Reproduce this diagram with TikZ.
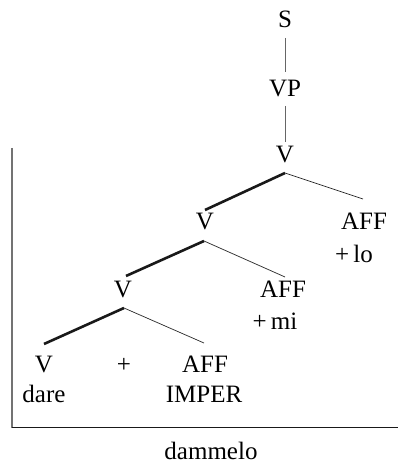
\documentclass[tikz,border=0pt]{standalone}
\usepackage{fontspec}
\setmainfont{Liberation Serif}
\begin{document}
\begin{tikzpicture}[x=1pt,y=1pt,
  lab/.style={anchor=base,inner sep=0pt,font=\fontsize{25}{29}\selectfont},
  thin/.style={line width=0.7pt,black!85},
  vert/.style={line width=0.8pt,black!60},
  heavy/.style={line width=2.6pt,black!90}]
\useasboundingbox (0,0) rectangle (398,465);
% labels
\node[lab] (S) at (285,437) {S};
\node[lab] (VP) at (285,368) {VP};
\node[lab] (V0) at (285,302) {V};
\node[lab] (V1) at (205,235) {V};
\node[lab] (A1) at (364,235) {AFF};
\node[lab] (lo) at (354,202) {+\,lo};
\node[lab] (V2) at (123,167) {V};
\node[lab] (A2) at (283,167) {AFF};
\node[lab] (mi) at (275,135) {+\,mi};
\node[lab] (V3) at (44,92) {V};
\node[lab] (pl) at (124,92) {+};
\node[lab] (A3) at (205,92) {AFF};
\node[lab] (dare) at (44,62) {dare};
\node[lab] (imp) at (204,62) {IMPER};
\node[lab] (dam) at (211,5.5) {dammelo};
% connector end points
\coordinate (s1) at (285,427); \coordinate (s2) at (285,393);
\coordinate (p1) at (285,359); \coordinate (p2) at (285,323);
\coordinate (b0) at (285,292); \coordinate (v1t) at (205,255); \coordinate (a1t) at (363,266);
\coordinate (b1) at (204,224); \coordinate (v2t) at (126,189); \coordinate (a2t) at (285,188);
\coordinate (b2) at (124,157); \coordinate (v3t) at (44,121); \coordinate (a3t) at (204,122);
\coordinate (f1) at (12,317); \coordinate (f2) at (12,37); \coordinate (f3) at (398,37);
% connectors
\draw[vert] (s1) -- (s2);
\draw[vert] (p1) -- (p2);
\draw[heavy] (b0) -- (v1t);
\draw[thin] (b0) -- (a1t);
\draw[heavy] (b1) -- (v2t);
\draw[thin] (b1) -- (a2t);
\draw[heavy] (b2) -- (v3t);
\draw[thin] (b2) -- (a3t);
\draw[line width=1.4pt,black!55] (f1) -- (f2);
\draw[line width=1pt,black!90] (f2) -- (f3);
\end{tikzpicture}
\end{document}
